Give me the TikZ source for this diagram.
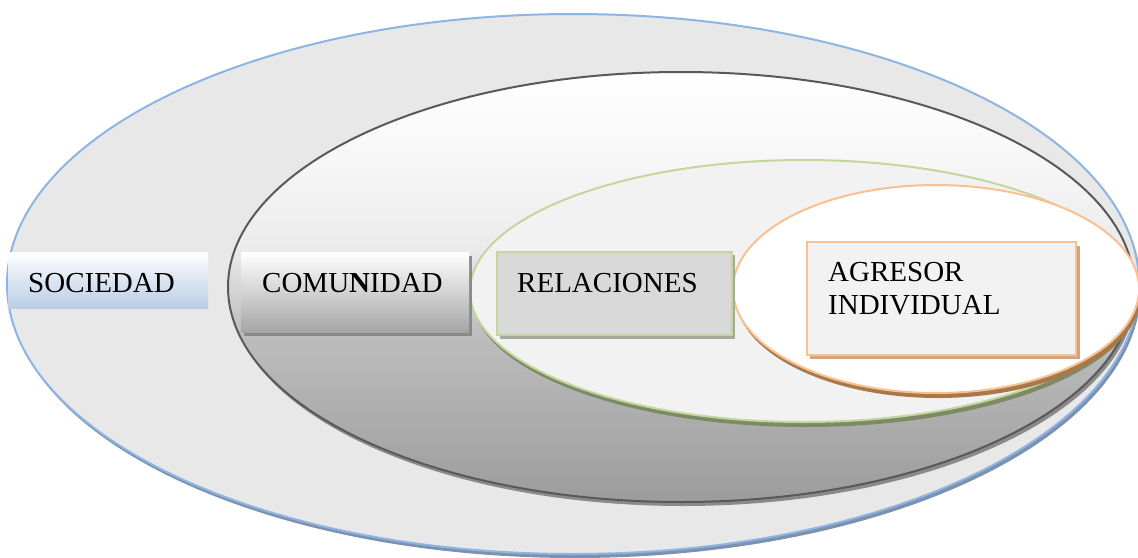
\documentclass[tikz,border=0pt]{standalone}
\usepackage{fontspec}
\setmainfont{Liberation Serif}
\definecolor{socline}{HTML}{8EB4E3}
\definecolor{socfill}{HTML}{E8E8E8}
\definecolor{socshadow}{HTML}{7D91AD}
\definecolor{comline}{HTML}{595959}
\definecolor{comshadow}{HTML}{8A8A8A}
\definecolor{relline}{HTML}{C3D69B}
\definecolor{relfill}{HTML}{F2F2F2}
\definecolor{relshadow}{HTML}{7E8A66}
\definecolor{agrline}{HTML}{FAC090}
\definecolor{agrshadow}{HTML}{A8784A}
\definecolor{socbox}{HTML}{B9CDE5}
\definecolor{combox}{HTML}{A6A6A6}
\definecolor{relbox}{HTML}{D9D9D9}
\definecolor{relboxshadow}{HTML}{A3AC94}
\definecolor{agrbox}{HTML}{F2F2F2}
\definecolor{agrboxshadow}{HTML}{D4A47E}
\definecolor{cg0}{HTML}{9C9C9C}
\definecolor{cg1}{HTML}{BEBEBE}
\definecolor{cg2}{HTML}{EBEBEB}
\definecolor{cg3}{HTML}{F8F8F8}
\pgfdeclareverticalshading{comshade}{100bp}{color(0bp)=(cg0); color(25bp)=(cg0); color(45bp)=(cg1); color(54.5bp)=(cg2); color(66bp)=(cg3); color(75bp)=(white); color(100bp)=(white)}
\tikzset{
  lbl/.style={font=\fontsize{29}{33}\selectfont, inner sep=0pt, anchor=base west, align=left},
  boxbase/.style={rectangle, inner sep=0pt, anchor=north west},
}
\begin{document}
\begin{tikzpicture}[x=1pt,y=-1pt]
\useasboundingbox (0,0) rectangle (1138,557);
% outer ellipse (sociedad)
\fill[socshadow] (575,288) ellipse [x radius=566pt, y radius=270pt];
\filldraw[fill=socfill, draw=socline, line width=2pt] (573,284) ellipse [x radius=566pt, y radius=270pt];
% comunidad ellipse
\fill[comshadow] (683,291) ellipse [x radius=453pt, y radius=215pt];
\shade[shading=comshade] (681,287) ellipse [x radius=453pt, y radius=215pt];
\draw[comline, line width=2pt] (681,287) ellipse [x radius=453pt, y radius=215pt];
% relaciones ellipse
\fill[relshadow] (806,296) ellipse [x radius=334pt, y radius=131pt];
\filldraw[fill=relfill, draw=relline, line width=2pt] (804,291) ellipse [x radius=334pt, y radius=131pt];
% agresor ellipse
\fill[agrshadow] (938,294) ellipse [x radius=203pt, y radius=104pt];
\filldraw[fill=white, draw=agrline, line width=2pt] (936,289) ellipse [x radius=203pt, y radius=104pt];
% SOCIEDAD box
\shade[top color=white, bottom color=socbox] (8,252) rectangle (208,308);
\node[boxbase, minimum width=200pt, minimum height=56pt] (soc) at (8,252) {};
\node[lbl] (soct) at (28,292) {SOCIEDAD};
% COMUNIDAD box
\fill[comshadow] (244,256) rectangle (472,336);
\shade[top color=white, bottom color=combox] (241,252) rectangle (469,332);
\node[boxbase, minimum width=228pt, minimum height=80pt] (com) at (241,252) {};
\node[lbl] (comt) at (262,292) {COMU\textbf{N}IDAD};
% RELACIONES box
\fill[relboxshadow] (500,255) rectangle (735,339);
\node[boxbase, fill=relbox, draw=relline, line width=2pt, minimum width=235pt, minimum height=83pt] (rel) at (496,251) {};
\node[lbl] (relt) at (517,292) {RELACIONES};
% AGRESOR box
\fill[agrboxshadow] (810,246) rectangle (1080,359);
\node[boxbase, fill=agrbox, draw=agrline, line width=2pt, minimum width=269pt, minimum height=113pt] (agr) at (806,241) {};
\node[lbl] (agrt1) at (828,281) {AGRESOR};
\node[lbl] (agrt2) at (828,314) {INDIVIDUAL};
\end{tikzpicture}
\end{document}
